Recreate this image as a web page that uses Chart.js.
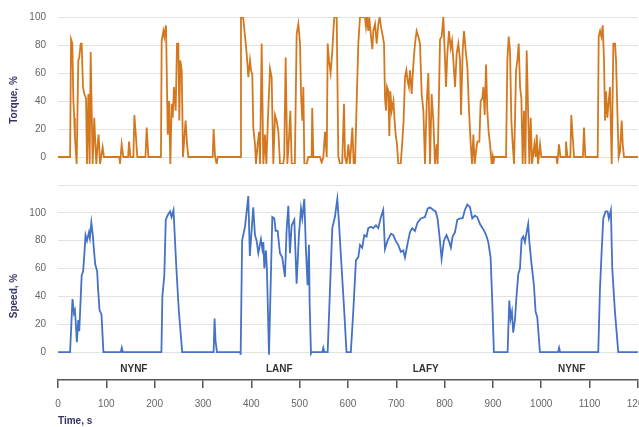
<!DOCTYPE html>
<html>
<head>
<title>Torque and speed</title>
<style>
  body { margin: 0; background: #fff; overflow: hidden; width: 639px; height: 427px; }
  .panel { position: relative; width: 659px; }
</style>
</head>
<body>
<div class="panel" style="height:170px"><canvas id="torqueChart"></canvas></div>
<div class="panel" style="height:257px"><canvas id="speedChart"></canvas></div>

<script src="https://cdn.jsdelivr.net/npm/chart.js"></script>
<script>
// torque, % against time, s
const torqueT = [0, 25, 27, 29.7, 31.7, 33.5, 35, 38.6, 42, 44, 47, 49, 51.7, 54.5, 58, 60, 62.8, 65.5, 67.6, 69.7, 71.7, 75, 77.3, 79.3, 82, 84, 87, 92.4, 95,
  127, 128.3, 131.7, 135, 145, 147, 149.7, 156, 158, 161.4, 164, 181, 183.5, 187,
  213, 214.5, 218, 220, 221.4, 223.5, 227, 229.7, 232.4, 235.2, 237.3, 240, 243.5, 246.2, 249, 251, 253, 256, 258.6, 264, 267, 269.7,
  320, 322, 325, 328.3, 330.4,
  377, 378.6, 383, 387, 390.3, 393.8, 397.2, 399.3, 402, 404, 407.6, 409.7, 413, 416, 418, 421.4, 424.8, 428.3, 431, 435, 438.6, 442, 445.5,
  449, 452.4, 456, 459.3, 466, 468, 471, 474.5, 478, 480.7, 483.5, 490, 493.8, 497.3, 500.7, 502.8, 505.5, 507.6, 509.7, 514.5, 518,
  524.8, 526, 528.3, 542, 545.5, 549, 552.4, 556, 558, 560.7, 564, 567.6, 569.7, 571.7, 576.6, 580, 583.5, 588, 591.7, 593.8, 597.3,
  600.7, 604, 609, 611.7, 614.5, 618, 621.4, 624.8, 635, 637.2, 639.3, 642, 644, 647.6, 650.4, 652.4, 656, 659.3, 662.8, 665.5, 668.3,
  671, 674.5, 676.6, 678.6, 680.7, 683.5, 685.5, 687.6, 690.4, 694, 696, 698.6, 701.4, 704, 709, 712.4, 715, 718, 720.7, 723.5, 726,
  728.3, 731.7, 735.2, 738.6, 742, 745.5, 749, 752.4, 756, 759.3, 762.8, 766.2, 769.7, 773, 776.6, 780, 783.5, 785.5, 790.4, 793.8,
  797.3, 800.7, 802.8, 805.6, 809, 812.5, 815.2, 818, 821.4, 824.9, 828.3, 831.8, 833.8, 837.3, 840, 843.5, 847, 850.4, 853.9, 856.6,
  859.4, 862.1, 864.9, 867.6, 871.8, 874.5, 878, 880, 882.8, 885.6, 888.3, 891, 893.9, 897.3, 899.4, 900.7, 902.8,
  927, 929.7, 932.5, 935.2, 938, 940.8, 943.5, 947.7, 950.4, 953.2, 956, 958.7, 961.4, 964.2, 967, 969.7, 972.5, 975.2, 978, 980.8,
  985.6, 988.3, 990.4, 993.2, 997.3, 1000, 1031, 1033, 1036.6, 1039.4, 1049, 1051, 1054, 1060, 1062, 1065, 1067.7, 1086, 1088.3, 1091,
  1116.6, 1118.7, 1121.5, 1124.2, 1127, 1129.7, 1131.8, 1133.9, 1136.6, 1139.4, 1142, 1145.6, 1149, 1152.5, 1154.6, 1157.3, 1160,
  1162.8, 1166.3, 1168.4, 1171, 1200];
const torqueV = [0, 0, 84, 81, 42, 28, 14, -5, 69, 71, 81, 81, 50, 45, 42, -5, 45, -5, 75, 33, -5, 28, 9, -5, 9, 16, -5, 7, 0,
  0, -5, 9, 0, 0, 11, 0, 0, 30, 14, 0, 0, 21, 0,
  0, 83, 90, 86, 90, 94, 16, 40, -5, 38, 28, 50, 33, 81, 81, 26, 69, 62, 0, 26, 9, 0,
  0, 20, 0, -5, 0,
  0, 100, 100, 86, 74, 57, 69, 62, 59, 21, 9, -5, 9, 18, -5, 81, -5, 16, -5, 33, 63, 57, -5,
  30, 26, 18, -5, -5, 0, 71, -5, 14, 33, -5, -5, 88, 95, 81, 45, 26, 50, -5, -5, 0,
  0, 35, 0, 0, -4, 0, 18, 0, 81, 69, 60, 76, 90, 100, 100, 0, -5, -5, 38, 0, -5,
  9, -5, 21, -5, -5, 40, 81, 100, 100, 93, 100, 90, 100, 86, 77, 90, 95, 81, 95, 100, 93,
  88, 81, 42, 33, 50, 47, 15, 47, 33, 40, 28, 16, 9, -5, -5, 11, 26, 57, 62, 54, 50,
  62, 45, 66, 81, 90, 86, 81, 45, 33, -5, 38, 60, -5, 45, 26, -5, 9, -5, 84, 86,
  100, 69, 50, 74, 90, 78, 83, 69, 50, 74, 81, 69, 30, 76, 90, 76, 64, 33, 9, -5,
  16, -5, 4, 11, 11, 40, 42, 50, 30, 66, 33, 18, 9, -5, 0, -5, 0,
  0, 69, 86, 76, 26, 9, -5, 62, 69, 81, 50, 42, -5, 33, -5, 76, 35, -5, 28, -5,
  9, 0, 16, -5, 9, 0, 0, -5, 9, 0, 0, 11, 0, 0, 30, 14, 0, 0, 21, 0,
  0, 86, 90, 86, 94, 69, 26, 47, 28, 40, 50, -5, 81, 81, 69, 33, 0,
  4, 26, 9, 0, 0];

// speed, % against time, s
const speedT = [0, 25, 30, 33, 35, 37, 39, 42, 44, 49, 52, 54.5, 57, 60, 64, 66, 69, 72, 74, 77, 81, 83, 86, 90, 94, 130, 132, 134,
  214, 216, 220, 223, 228, 232, 235, 239, 245, 250, 257, 322, 324, 326, 329,
  377, 378, 381, 387, 393.8, 397, 404, 407.6, 411, 414.5, 420, 422.8, 425, 427, 430.3, 432.4, 436.6, 443.5, 447.6, 450.4, 454.5,
  459.3, 464, 469.7, 473, 476.6, 480, 483.5, 489, 493.8, 498.6, 502.8, 505.5, 509.7, 513, 516.5, 519.3, 520.7, 523.5, 525, 547, 549, 551,
  558, 567.6, 573, 578, 581.4, 587, 592.4, 597, 606, 611, 616.6, 621.4, 625, 629.6, 633.8, 638.6, 642, 647.6, 652.4, 658, 662.8,
  668.3, 673, 676.6, 682, 689, 694, 698.6, 704, 709.6, 714.5, 718, 723.5, 728.3, 733, 738.6, 744, 751, 759.3, 765, 769.7, 776.6,
  781.4, 785.5, 790.4, 793.8, 798.7, 804, 809.7, 813, 816.6, 821.4, 826.3, 831.8, 837.3, 842, 847, 852.5, 857.3, 862.8, 867.6,
  873.2, 878.7, 883.5, 887, 890.4, 895.2, 898.7, 902,
  930.4, 933.9, 936.6, 939.4, 942, 945.6, 949, 952.5, 956, 959.4, 962.8, 966.3, 969.7, 973, 975.2, 980, 984.9, 988.3, 991.8, 997.3,
  1035, 1037, 1039, 1118, 1121.5, 1125, 1128.4, 1133.2, 1137.3, 1140, 1144.2, 1147, 1152.5, 1159.4, 1200];
const speedV = [0, 0, 38, 28, 30, 20, 7, 23, 15, 55, 58, 70, 84, 80, 86, 82, 93, 84, 75, 63, 58, 45, 30, 27, 0, 0, 3, 0,
  0, 40, 55, 95, 99, 101, 97, 102, 60, 30, 0, 0, 24, 8, 0,
  0, -2, 80, 90, 112, 69, 104, 84, 80, 71, 81, 74, 79, 60, 73, 59, -2, 97, 96, 87, 87,
  71, 68, 54, 87, 105, 71, 91, 95, 49, 84, 103, 96, 110, 74, 48, 77, 36, -1, 0, 0, 3, 0,
  0, 89, 97, 110, 93, 60, 29, 0, 0, 29, 66, 68, 77, 75, 84, 83, 89, 90, 89, 91, 89,
  97, 102, 74, 80, 85, 84, 80, 77, 72, 73, 68, 78, 86, 89, 87, 93, 96, 97, 103, 104, 102,
  101, 96, 80, 67, 80, 84, 79, 75, 83, 86, 95, 96, 96, 102, 106, 104, 96, 98, 97,
  92, 89, 86, 83, 79, 68, 36, 0,
  0, 37, 24, 29, 14, 23, 41, 56, 60, 81, 83, 79, 86, 92, 80, 63, 48, 29, 25, 0,
  0, 3, 0, 0, 45, 72, 96, 101, 101, 96, 102, 60, 29, 0, 0];

const torqueGrid = [0, 20, 40, 60, 80, 100];
const speedGrid = [0, 20, 40, 60, 80, 100, 120];
const timeTicks = [0, 100, 200, 300, 400, 500, 600, 700, 800, 900, 1000, 1100, 1200];
const segCenters = [157, 458, 761, 1063];
const segLabels = ['NYNF', 'LANF', 'LAFY', 'NYNF'];

const FONT = "'Liberation Sans', Arial, sans-serif";
Chart.defaults.font.family = FONT;
Chart.defaults.font.size = 10;
Chart.defaults.color = '#666';

// y titles are centred on the whole panel, not only on the plot area
const sideTitle = {
  id: 'sideTitle',
  afterDraw(chart, args, opts) {
    const c = chart.ctx;
    c.save();
    c.translate(opts.x, opts.y);
    c.rotate(-Math.PI / 2);
    c.font = 'bold 10px ' + FONT;
    c.fillStyle = '#333366';
    c.textAlign = 'center';
    c.textBaseline = 'middle';
    c.fillText(opts.text, 0, 0);
    c.restore();
  }
};

// invisible 12px tick marks keep the labels off the plot without the big label padding
function yAxis(min, max, grid) {
  return {
    min: min,
    max: max,
    afterBuildTicks: a => { a.ticks = grid.map(v => ({ value: v })); },
    afterFit: a => { a.width = 58; },
    grid: { color: '#e3e3e3', drawTicks: true, tickLength: 12, tickColor: 'rgba(0,0,0,0)' },
    border: { display: false },
    ticks: { padding: 0, callback: v => (v > 100 ? '' : v) }
  };
}

function lineData(ts, vs, color) {
  return {
    datasets: [{
      data: ts.map((t, i) => ({ x: t, y: vs[i] })),
      borderColor: color,
      borderWidth: 1.8,
      pointRadius: 0,
      tension: 0
    }]
  };
}

new Chart(document.getElementById('torqueChart'), {
  type: 'line',
  data: lineData(torqueT, torqueV, '#d4781f'),
  plugins: [sideTitle],
  options: {
    responsive: true,
    maintainAspectRatio: false,
    animation: false,
    devicePixelRatio: 1,
    layout: { padding: { top: 17, right: 21, bottom: 0, left: 0 } },
    plugins: {
      legend: { display: false },
      tooltip: { enabled: false },
      sideTitle: { text: 'Torque, %', x: 14, y: 100 }
    },
    scales: {
      x: { type: 'linear', min: 0, max: 1200, display: false },
      y: yAxis(-5, 100, torqueGrid)
    }
  }
});

new Chart(document.getElementById('speedChart'), {
  type: 'line',
  data: lineData(speedT, speedV, '#4472c4'),
  plugins: [sideTitle],
  options: {
    responsive: true,
    maintainAspectRatio: false,
    animation: false,
    devicePixelRatio: 1,
    layout: { padding: { top: 15, right: 14, bottom: 0, left: 0 } },
    plugins: {
      legend: { display: false },
      tooltip: { enabled: false },
      sideTitle: { text: 'Speed, %', x: 14, y: 126 }
    },
    scales: {
      seg: {
        type: 'linear',
        position: 'bottom',
        weight: 0,
        min: 0,
        max: 1200,
        afterBuildTicks: a => { a.ticks = segCenters.map(v => ({ value: v })); },
        afterFit: a => { a.height = 21; },
        grid: { display: false, drawTicks: false },
        border: { display: false },
        ticks: {
          padding: 4,
          color: '#333',
          font: { weight: 'bold' },
          callback: v => segLabels[segCenters.indexOf(v)]
        }
      },
      x: {
        type: 'linear',
        position: 'bottom',
        weight: 1,
        min: 0,
        max: 1200,
        afterBuildTicks: a => { a.ticks = timeTicks.map(v => ({ value: v })); },
        afterFit: a => { a.height = 47; },
        grid: { drawOnChartArea: false, drawTicks: true, tickLength: 8, color: '#555', lineWidth: 1.5 },
        border: { display: true, color: '#555', width: 1.5 },
        ticks: { padding: 10, maxRotation: 0, callback: v => String(v) },
        title: {
          display: true,
          text: 'Time, s',
          align: 'start',
          color: '#333366',
          font: { weight: 'bold' },
          padding: { top: 0, bottom: 0 }
        }
      },
      y: yAxis(-5, 120, speedGrid)
    }
  }
});
</script>
</body>
</html>
